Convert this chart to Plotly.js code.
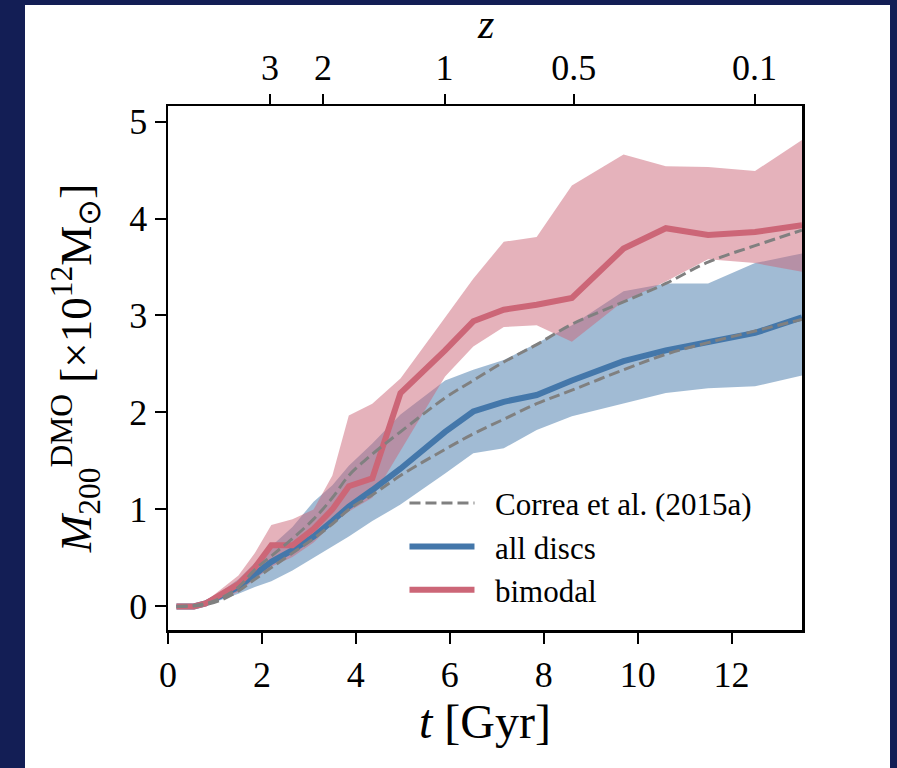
<!DOCTYPE html>
<html>
<head>
<meta charset="utf-8">
<script src="https://cdn.plot.ly/plotly-3.0.1.min.js"></script>
<style>
  html, body { margin: 0; padding: 0; background: #131e55; width: 897px; height: 768px; overflow: hidden; }
  #chart { position: absolute; left: 25px; top: 0px; width: 865px; height: 768px; }
</style>
</head>
<body>
<div id="chart"></div>
<script>
// Cosmic time [Gyr]
const tGyr = [0.18, 0.55, 0.8, 1.1, 1.5, 1.85, 2.2, 2.65, 3.1, 3.5, 3.85, 4.35, 4.95, 5.9, 6.5, 7.15, 7.85, 8.6, 9.7, 10.6, 11.5, 12.5, 13.5];

// all discs: median and band
const allMed = [0, 0, 0.03, 0.10, 0.20, 0.33, 0.46, 0.58, 0.72, 0.88, 1.03, 1.20, 1.42, 1.80, 2.01, 2.11, 2.18, 2.33, 2.53, 2.64, 2.72, 2.82, 2.98];
const allLo  = [0, 0, 0.01, 0.06, 0.13, 0.20, 0.26, 0.37, 0.50, 0.62, 0.72, 0.88, 1.05, 1.37, 1.58, 1.63, 1.82, 1.96, 2.09, 2.20, 2.25, 2.27, 2.38];
const allHi  = [0, 0, 0.05, 0.14, 0.28, 0.45, 0.62, 0.82, 1.08, 1.25, 1.45, 1.68, 1.98, 2.33, 2.44, 2.54, 2.71, 2.90, 3.25, 3.33, 3.33, 3.54, 3.64];

// bimodal: median and band
const bimMed = [0, 0, 0.03, 0.12, 0.23, 0.40, 0.63, 0.63, 0.80, 1.00, 1.24, 1.32, 2.20, 2.64, 2.94, 3.06, 3.11, 3.18, 3.69, 3.90, 3.83, 3.86, 3.93];
const bimLo  = [0, 0, 0.01, 0.08, 0.15, 0.28, 0.41, 0.51, 0.66, 0.85, 0.98, 1.12, 1.60, 2.37, 2.68, 2.88, 2.90, 2.73, 3.15, 3.35, 3.58, 3.54, 3.45];
const bimHi  = [0, 0, 0.05, 0.17, 0.32, 0.55, 0.84, 0.90, 1.00, 1.35, 1.97, 2.09, 2.35, 2.98, 3.38, 3.76, 3.81, 4.34, 4.66, 4.54, 4.53, 4.49, 4.81];

// Correa et al. (2015a) predictions
const correaHigh = [0, 0.01, 0.03, 0.08, 0.20, 0.38, 0.52, 0.70, 0.90, 1.12, 1.35, 1.57, 1.80, 2.15, 2.33, 2.52, 2.70, 2.91, 3.14, 3.33, 3.55, 3.72, 3.88];
const correaLow  = [0, 0.005, 0.02, 0.06, 0.16, 0.28, 0.40, 0.55, 0.70, 0.85, 1.00, 1.15, 1.35, 1.62, 1.78, 1.93, 2.09, 2.23, 2.44, 2.60, 2.72, 2.84, 2.96];

// axis ticks
const tTicks = [0, 2, 4, 6, 8, 10, 12];
const mTicks = [0, 1, 2, 3, 4, 5];
const zTickTime = [2.17, 3.30, 5.89, 8.64, 12.49];
const zTickText = ['3', '2', '1', '0.5', '0.1'];

const blue = '#4477aa', red = '#cc6677';
const blueFill = 'rgba(68,119,170,0.5)', redFill = 'rgba(204,102,119,0.5)';
const NAVY = '#131e55';
const FONT = 'Liberation Serif, serif';
const GAP = '\u2002';

const traces = [
  {x: tGyr, y: allLo, mode: 'lines', line: {width: 0, color: blueFill}, showlegend: false, hoverinfo: 'skip'},
  {x: tGyr, y: allHi, mode: 'lines', line: {width: 0, color: blueFill}, fill: 'tonexty', fillcolor: blueFill, showlegend: false, hoverinfo: 'skip'},
  {x: tGyr, y: bimLo, mode: 'lines', line: {width: 0, color: redFill}, showlegend: false, hoverinfo: 'skip'},
  {x: tGyr, y: bimHi, mode: 'lines', line: {width: 0, color: redFill}, fill: 'tonexty', fillcolor: redFill, showlegend: false, hoverinfo: 'skip'},
  {x: tGyr, y: allMed, mode: 'lines', name: GAP + 'all discs', line: {width: 6, color: blue}, legendrank: 2},
  {x: tGyr, y: bimMed, mode: 'lines', name: GAP + 'bimodal', line: {width: 6, color: red}, legendrank: 3},
  {x: tGyr, y: correaHigh, xaxis: 'x2', mode: 'lines', name: GAP + 'Correa et al. (2015a)', line: {width: 3, color: '#808080', dash: '11px,5px', shape: 'spline'}, legendrank: 1},
  {x: tGyr, y: correaLow, xaxis: 'x2', mode: 'lines', showlegend: false, line: {width: 3, color: '#808080', dash: '11px,5px', shape: 'spline'}}
];

const axisCommon = {
  ticks: 'outside', ticklen: 11, tickwidth: 2, tickcolor: 'black',
  showline: true, linewidth: 2.5, linecolor: 'black',
  showgrid: false, zeroline: false,
  tickfont: {family: FONT, size: 36, color: 'black'}
};

const W = 865, H = 768, ML = 143, MR = 88, MT = 106, MB = 138;
const PW = W - ML - MR, PH = H - MT - MB;

const layout = {
  width: W, height: H,
  paper_bgcolor: 'white', plot_bgcolor: 'white',
  margin: {l: ML, r: MR, t: MT, b: MB},
  font: {family: FONT, color: 'black'},
  showlegend: true,
  legend: {
    x: 0.373, y: 0.293, xanchor: 'left', yanchor: 'top',
    bgcolor: 'rgba(0,0,0,0)', font: {family: FONT, size: 31, color: 'black'},
    itemwidth: 65, traceorder: 'normal'
  },
  xaxis: Object.assign({}, axisCommon, {
    range: [0, 13.5], tickvals: tTicks, mirror: true,
    title: {text: '<i>t</i> [Gyr]', font: {family: FONT, size: 48}, standoff: 10}
  }),
  xaxis2: Object.assign({}, axisCommon, {
    overlaying: 'x', side: 'top', range: [0, 13.5], showline: false,
    tickvals: zTickTime, ticktext: zTickText
  }),
  yaxis: Object.assign({}, axisCommon, {
    range: [-0.243, 5.16], tickvals: mTicks, mirror: true,
    title: {text: '<i>M</i><sub>200</sub><sup>DMO</sup> [×10<sup>12</sup>M<sub>⊙</sub>]', font: {family: FONT, size: 45}, standoff: 24}
  }),
  shapes: [
    // navy slide strip along the top edge of the page
    {type: 'rect', xref: 'paper', yref: 'paper', layer: 'below',
     x0: -ML / PW - 0.01, x1: (W - ML) / PW + 0.01, y0: 1 + (MT - 5) / PH, y1: 1 + MT / PH + 0.01,
     fillcolor: NAVY, line: {width: 0}}
  ],
  annotations: [
    {text: '<i>z</i>', xref: 'paper', yref: 'paper', x: 0.5, y: 1 + MT / PH, xanchor: 'center', yanchor: 'top',
     borderpad: 0, showarrow: false, font: {family: FONT, size: 42, color: 'black'}}
  ]
};

Plotly.newPlot('chart', traces, layout, {displayModeBar: false, staticPlot: true});
</script>
</body>
</html>
